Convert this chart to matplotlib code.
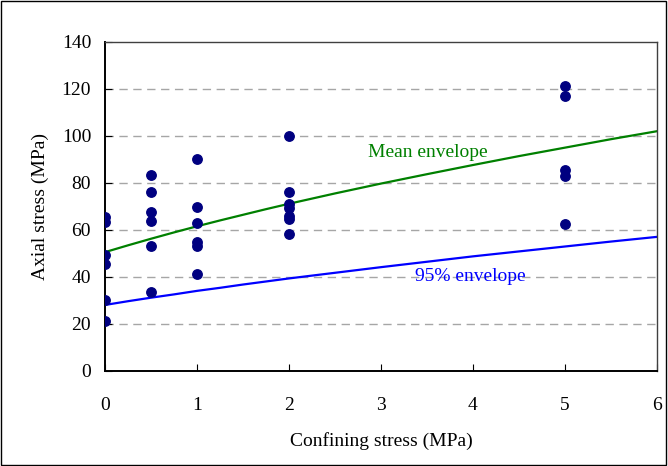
import matplotlib
matplotlib.use("Agg")
import matplotlib.pyplot as plt
from matplotlib.patches import Rectangle

plt.rcParams['font.family'] = ['Liberation Serif', 'DejaVu Serif']

# Test results: confining stress (MPa) vs axial stress at failure (MPa)
conf_0 = [65.4, 63.5, 49.1, 45.3, 30.1, 21.1]
conf_05 = [83.5, 76.0, 67.8, 63.9, 53.1, 33.6]
conf_1 = [90.1, 69.6, 63.1, 54.7, 52.9, 41.1]
conf_2 = [100.0, 76.1, 71.0, 69.4, 66.1, 64.7, 58.3]
conf_5 = [121.1, 116.9, 85.5, 83.0, 62.5]

sigma3 = [0] * len(conf_0) + [0.5] * len(conf_05) + [1] * len(conf_1) \
    + [2] * len(conf_2) + [5] * len(conf_5)
sigma1 = conf_0 + conf_05 + conf_1 + conf_2 + conf_5

# Failure envelopes
env_x = [0, 0.25, 0.5, 0.75, 1, 1.25, 1.5, 1.75, 2, 2.5, 3, 3.5, 4, 4.5, 5, 5.5, 6]
mean_env = [50.5, 53.4, 56.2, 58.9, 61.5, 64.0, 66.4, 68.8, 71.1, 75.5, 79.7,
            83.7, 87.6, 91.4, 95.0, 98.6, 102.0]
env_95 = [28.0, 29.6, 31.1, 32.5, 34.0, 35.3, 36.7, 38.0, 39.3, 41.7, 44.1,
          46.4, 48.7, 50.8, 52.9, 55.0, 57.0]

x_ticks = [0, 1, 2, 3, 4, 5, 6]
y_ticks = [0, 20, 40, 60, 80, 100, 120, 140]

fig = plt.figure(figsize=(6.68, 4.66), dpi=100)
ax = fig.add_axes([0.1572, 0.2045, 0.8263, 0.7054])

for y in y_ticks[1:-1]:
    ax.axhline(y, color='#a6a6a6', lw=1.0, dashes=(6, 4), zorder=0)

ax.plot(env_x, mean_env, color='#008000', lw=1.6, zorder=2)
ax.plot(env_x, env_95, color='#0000ff', lw=1.6, zorder=2)
ax.plot(sigma3, sigma1, 'o', color='#000080', ms=6.8, mec='#000080', zorder=3)

ax.text(2.86, 93, 'Mean envelope', color='#008000', fontsize=14, va='center')
ax.text(3.37, 40, '95% envelope', color='#0000ff', fontsize=14, va='center')

ax.set_xlim(0, 6)
ax.set_ylim(0, 140)
ax.set_xticks(x_ticks)
ax.set_yticks(y_ticks)
ax.tick_params(axis='x', direction='in', length=5, pad=19, labelsize=14)
ax.tick_params(axis='y', direction='in', length=5, pad=10, labelsize=14)

for side in ['left', 'bottom']:
    ax.spines[side].set_linewidth(1.4)
    ax.spines[side].set_color('black')
for side in ['right', 'top']:
    ax.spines[side].set_linewidth(1.0)
    ax.spines[side].set_color('#404040')

ax.set_xlabel('Confining stress (MPa)', fontsize=14, labelpad=13)
ax.set_ylabel('Axial stress (MPa)', fontsize=14, labelpad=9)

# outer frame around the chart
fig.patches.append(Rectangle((0.0015, 0.002), 0.996, 0.995, transform=fig.transFigure,
                             fill=False, edgecolor='black', lw=1.0))

fig.savefig('out.png', dpi=100)
